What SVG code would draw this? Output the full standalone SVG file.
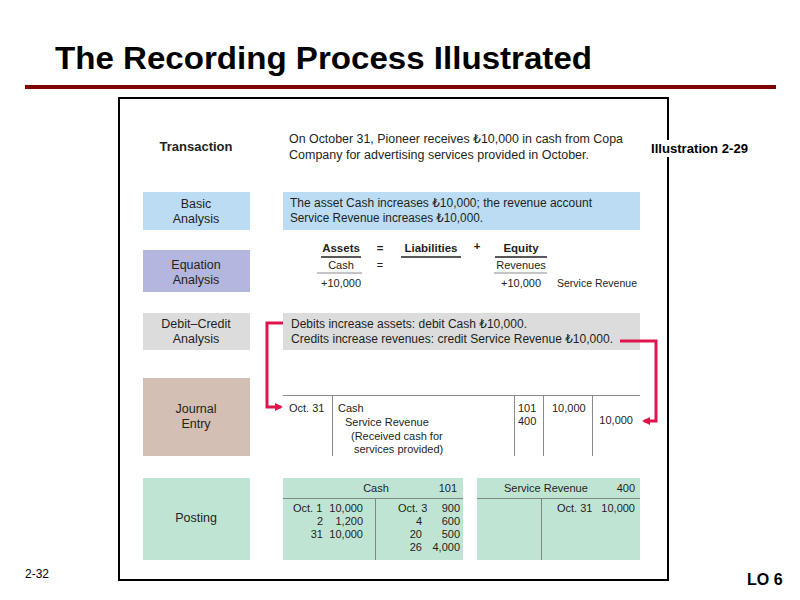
<svg xmlns="http://www.w3.org/2000/svg" width="800" height="600" viewBox="0 0 800 600">
<style>
text{font-family:"Liberation Sans","DejaVu Sans",sans-serif;fill:#231f20;font-size:12px}
.lbl{text-anchor:middle;font-size:12.5px}
.b{font-weight:bold}
.r{text-anchor:end}
.s{font-size:11px}
.gl{stroke:#8a8a8a;stroke-width:1;fill:none}
.tl{stroke:#7a8a82;stroke-width:1;fill:none}
.ul{stroke:#231f20;stroke-width:1.3}
.red{stroke:#e0144c;stroke-width:3;fill:none}
.mint{fill:#c0e4d4}
</style>
<defs>
<marker id="ah" markerWidth="8" markerHeight="8" refX="6" refY="4" orient="auto" markerUnits="userSpaceOnUse">
<path d="M0,0 L8,4 L0,8 Z" fill="#e0144c"/>
</marker>
</defs>
<rect width="800" height="600" fill="#fff"/>
<g id="title">
<text x="55" y="69" class="b" style="font-size:32px;fill:#000" textLength="537" lengthAdjust="spacingAndGlyphs">The Recording Process Illustrated</text>
<rect x="25" y="85" width="751" height="4" fill="#800000"/>
</g>
<rect id="frame" x="119" y="98" width="549" height="482" fill="none" stroke="#000" stroke-width="2"/>
<g id="illustration">
<rect x="648" y="140" width="104" height="17" fill="#fff"/>
<text x="651" y="153" class="b" style="fill:#000;font-size:12.5px" textLength="97" lengthAdjust="spacingAndGlyphs">Illustration 2-29</text>
</g>
<g id="transaction">
<text x="196" y="151" class="lbl b" style="font-size:13px">Transaction</text>
<text x="289" y="143" textLength="334" lengthAdjust="spacingAndGlyphs">On October 31, Pioneer receives ₺10,000 in cash from Copa</text>
<text x="289" y="159" textLength="300" lengthAdjust="spacingAndGlyphs">Company for advertising services provided in October.</text>
</g>
<g id="basic">
<rect x="143" y="192" width="107" height="38" fill="#bcdcf3"/>
<text x="196" y="208" class="lbl">Basic</text>
<text x="196" y="223" class="lbl">Analysis</text>
<rect x="283" y="192" width="357" height="38" fill="#bcdcf3"/>
<text x="290" y="207" textLength="302" lengthAdjust="spacingAndGlyphs">The asset Cash increases ₺10,000; the revenue account</text>
<text x="290" y="222" textLength="193" lengthAdjust="spacingAndGlyphs">Service Revenue increases ₺10,000.</text>
</g>
<g id="equation">
<rect x="143" y="250" width="107" height="42" fill="#b3b6de"/>
<text x="196" y="269" class="lbl">Equation</text>
<text x="196" y="284" class="lbl">Analysis</text>
<text x="341" y="252" class="b" style="text-anchor:middle;font-size:11.5px">Assets</text>
<line x1="321" y1="257" x2="361" y2="257" class="ul"/>
<text x="380" y="252" class="b" style="text-anchor:middle;font-size:11.5px">=</text>
<text x="431" y="252" class="b" style="text-anchor:middle;font-size:11.5px">Liabilities</text>
<line x1="401" y1="257" x2="461" y2="257" class="ul"/>
<text x="477" y="250" class="b" style="text-anchor:middle;font-size:11.5px">+</text>
<text x="521" y="252" class="b" style="text-anchor:middle;font-size:11.5px">Equity</text>
<line x1="495" y1="257" x2="547" y2="257" class="ul"/>
<text x="341" y="269" style="text-anchor:middle;font-size:11px">Cash</text>
<text x="380" y="269" style="text-anchor:middle;font-size:11px">=</text>
<text x="521" y="269" style="text-anchor:middle;font-size:11px">Revenues</text>
<line x1="317" y1="273" x2="362" y2="273" class="gl"/>
<line x1="494" y1="273" x2="547" y2="273" class="gl"/>
<text x="321" y="287" class="s">+10,000</text>
<text x="501" y="287" class="s">+10,000</text>
<text x="557" y="287" class="s" textLength="80" lengthAdjust="spacingAndGlyphs">Service Revenue</text>
</g>
<g id="debitcredit">
<rect x="143" y="313" width="107" height="37" fill="#dcdcdc"/>
<text x="196" y="328" class="lbl">Debit–Credit</text>
<text x="196" y="343" class="lbl">Analysis</text>
<rect x="283" y="313" width="357" height="37" fill="#dcdcdc"/>
<text x="291" y="328" textLength="236" lengthAdjust="spacingAndGlyphs">Debits increase assets: debit Cash ₺10,000.</text>
<text x="291" y="343" textLength="322" lengthAdjust="spacingAndGlyphs">Credits increase revenues: credit Service Revenue ₺10,000.</text>
</g>
<g id="journal">
<rect x="143" y="378" width="107" height="78" fill="#d3bfb3"/>
<text x="196" y="413" class="lbl">Journal</text>
<text x="196" y="428" class="lbl">Entry</text>
<line x1="283" y1="395.5" x2="640" y2="395.5" class="gl"/>
<line x1="332.5" y1="395" x2="332.5" y2="456" class="gl"/>
<line x1="514.5" y1="395" x2="514.5" y2="456" class="gl"/>
<line x1="543.5" y1="395" x2="543.5" y2="456" class="gl"/>
<line x1="592.5" y1="395" x2="592.5" y2="456" class="gl"/>
<text x="289" y="412" class="s">Oct. 31</text>
<text x="338" y="412" class="s">Cash</text>
<text x="345" y="426" class="s">Service Revenue</text>
<text x="351" y="440" class="s">(Received cash for</text>
<text x="354" y="453" class="s">services provided)</text>
<text x="518" y="412" class="s">101</text>
<text x="518" y="425" class="s">400</text>
<text x="552" y="412" class="s">10,000</text>
<text x="633" y="424" class="s r">10,000</text>
</g>
<g id="posting">
<rect x="143" y="478" width="107" height="82" fill="#c0e4d4"/>
<text x="196" y="522" class="lbl">Posting</text>
<rect x="283" y="478" width="180" height="82" class="mint"/>
<line x1="283" y1="498.5" x2="463" y2="498.5" class="tl"/>
<line x1="375.5" y1="498" x2="375.5" y2="560" class="tl"/>
<text x="376" y="492" class="s" style="text-anchor:middle">Cash</text>
<text x="457" y="492" class="s r">101</text>
<text x="293" y="512" class="s">Oct. 1</text>
<text x="363" y="512" class="s r">10,000</text>
<text x="323" y="525" class="s r">2</text>
<text x="363" y="525" class="s r">1,200</text>
<text x="323" y="538" class="s r">31</text>
<text x="363" y="538" class="s r">10,000</text>
<text x="398" y="512" class="s">Oct. 3</text>
<text x="460" y="512" class="s r">900</text>
<text x="422" y="525" class="s r">4</text>
<text x="460" y="525" class="s r">600</text>
<text x="422" y="538" class="s r">20</text>
<text x="460" y="538" class="s r">500</text>
<text x="422" y="551" class="s r">26</text>
<text x="460" y="551" class="s r">4,000</text>
<rect x="477" y="478" width="163" height="82" class="mint"/>
<line x1="477" y1="498.5" x2="640" y2="498.5" class="tl"/>
<line x1="541.5" y1="498" x2="541.5" y2="560" class="tl"/>
<text x="504" y="492" class="s">Service Revenue</text>
<text x="635" y="492" class="s r">400</text>
<text x="557" y="512" class="s">Oct. 31</text>
<text x="635" y="512" class="s r">10,000</text>
</g>
<g id="connectors">
<polyline points="283,323 267,323 267,407 281,407" class="red" marker-end="url(#ah)"/>
<polyline points="620,341 656,341 656,421 644,421" class="red" marker-end="url(#ah)"/>
</g>
<g id="footer">
<text x="25" y="578" style="font-size:12px;fill:#000">2-32</text>
<text x="747" y="585" class="b" style="font-size:16px;fill:#000">LO 6</text>
</g>
</svg>
